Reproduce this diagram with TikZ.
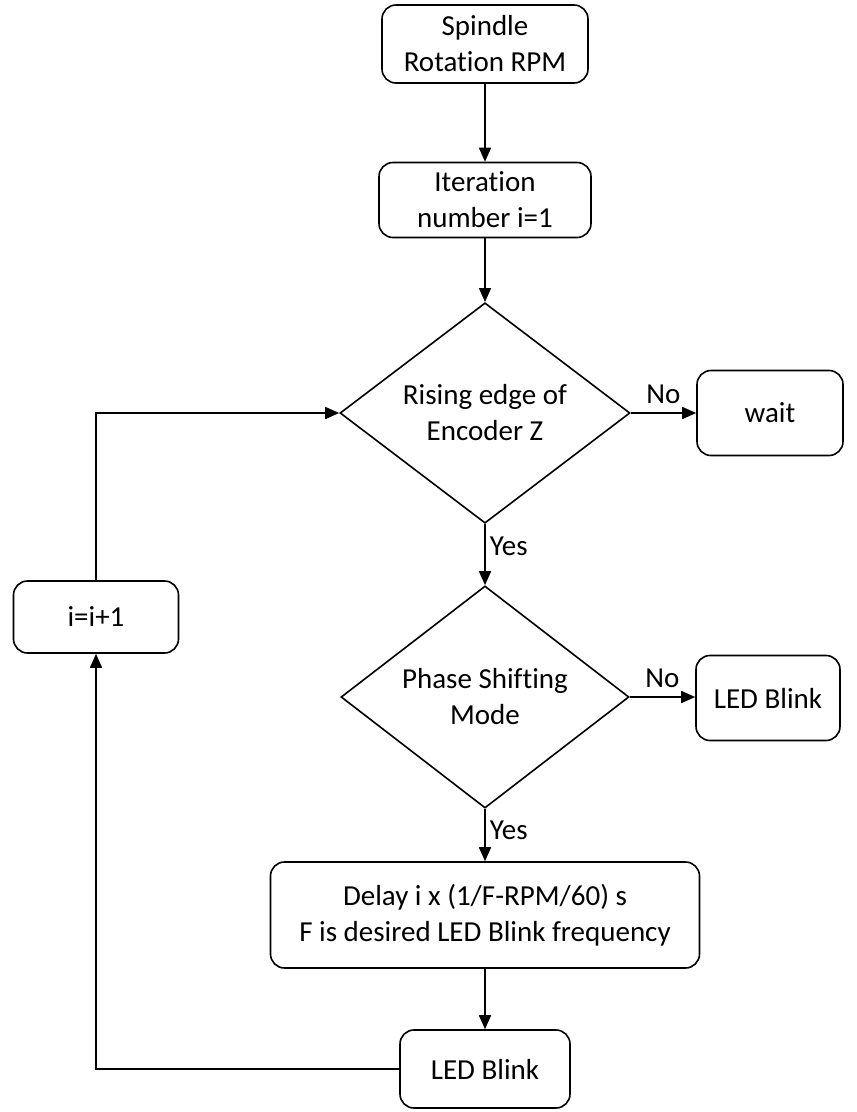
\documentclass[tikz,border=0pt]{standalone}
\usepackage{fontspec}
\setmainfont[Ligatures=NoCommon]{Carlito}
\usetikzlibrary{shapes.geometric,arrows.meta}
\begin{document}
\begin{tikzpicture}[x=1pt,y=-1pt,
  font=\fontsize{29}{36}\selectfont,
  line width=1.6pt,
  box/.style={draw, rounded corners=14pt, align=center, inner sep=0pt},
  dec/.style={draw, diamond, align=center, inner sep=0pt},
  arr/.style={-{Triangle[length=14pt,width=12pt]}},
  lbl/.style={inner sep=2pt}]
\useasboundingbox (0,0) rectangle (857,1112);
\node[box, minimum width=206pt, minimum height=78pt] (spin) at (485,44) {Spindle\\Rotation RPM};
\node[box, minimum width=212pt, minimum height=75pt] (iter) at (485,200) {Iteration\\number i=1};
\node[dec, minimum width=290pt, minimum height=206pt] (d1) at (485,413) {Rising edge of\\Encoder Z};
\node[box, minimum width=146pt, minimum height=85pt] (wait) at (770,413) {wait};
\node[dec, minimum width=288pt, minimum height=200pt] (d2) at (485,697) {Phase Shifting\\Mode};
\node[box, minimum width=144pt, minimum height=85pt] (b1) at (768,698) {LED Blink};
\node[box, minimum width=429pt, minimum height=106pt] (delay) at (485,915) {Delay i x (1/F-RPM/60) s\\F is desired LED Blink frequency};
\node[box, minimum width=170pt, minimum height=78pt] (b2) at (485,1069) {LED Blink};
\node[box, minimum width=165pt, minimum height=72pt] (inc) at (96,617) {i=i+1};
\draw[arr] (spin.south) -- (iter.north);
\draw[arr] (iter.south) -- (d1.north);
\draw[arr] (d1.east) -- node[lbl, above=7pt] {No} (wait.west |- d1.east);
\draw[arr] (d1.south) -- node[lbl, right=2pt, yshift=8pt] {Yes} (d2.north);
\draw[arr] (d2.east) -- node[lbl, above=7pt] {No} (b1.west |- d2.east);
\draw[arr] (d2.south) -- node[lbl, right=2pt, yshift=5pt] {Yes} (delay.north);
\draw[arr] (delay.south) -- (b2.north);
\draw[arr] (b2.west) -| (inc.south);
\draw[arr] (inc.north) |- (d1.west);
\end{tikzpicture}
\end{document}
